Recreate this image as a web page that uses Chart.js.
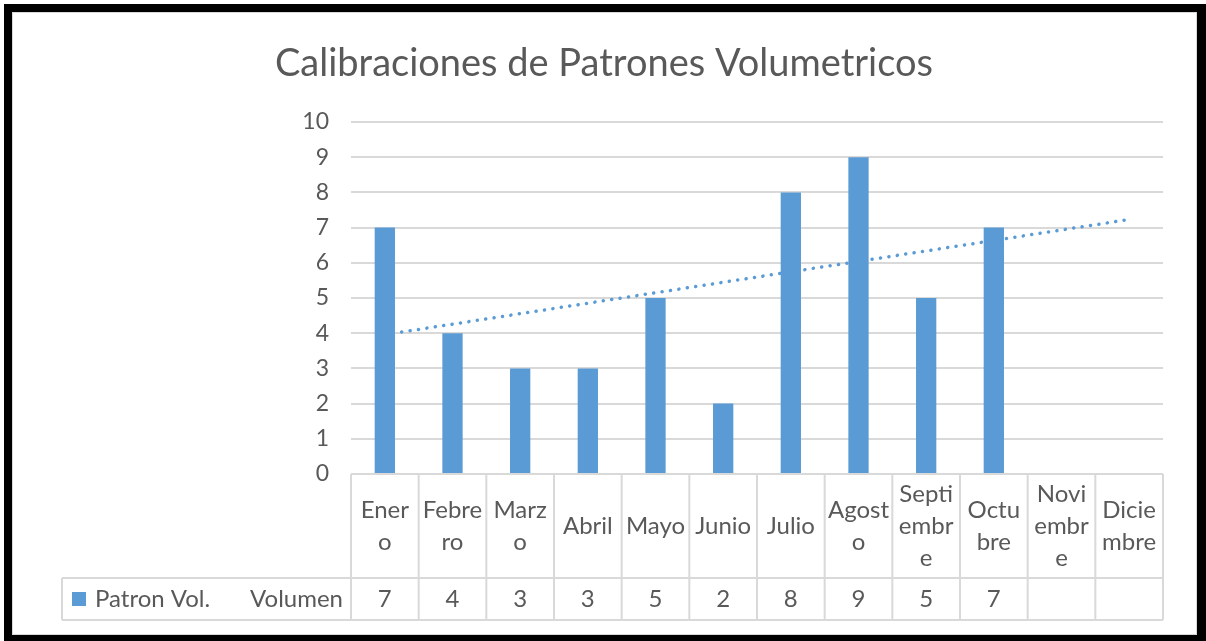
<!DOCTYPE html>
<html>
<head>
  <title>Calibraciones de Patrones Volumetricos</title>
  <script src="https://cdn.jsdelivr.net/npm/chart.js"></script>
  <style>
    body {
      margin: 0;
      background: #ffffff;
    }
    #wrap {
      width: 1206px;
      height: 641px;
    }
  </style>
</head>
<body>
  <div id="wrap">
    <canvas id="calChart" width="1206" height="641"></canvas>
  </div>

  <script>
// datos
const meses = ['Enero', 'Febrero', 'Marzo', 'Abril', 'Mayo', 'Junio', 'Julio', 'Agosto', 'Septiembre', 'Octubre', 'Noviembre', 'Diciembre'];
// asi corta Excel los nombres dentro de la tabla
const mesesTabla = [['Ener', 'o'], ['Febre', 'ro'], ['Marz', 'o'], ['Abril'], ['Mayo'], ['Junio'], ['Julio'], ['Agost', 'o'], ['Septi', 'embr', 'e'], ['Octu', 'bre'], ['Novi', 'embr', 'e'], ['Dicie', 'mbre']];
const volumen = [7, 4, 3, 3, 5, 2, 8, 9, 5, 7, null, null];
// linea de tendencia: extremos
const tendencia = [3.96, null, null, null, null, null, null, null, null, null, null, 7.23];
const ejeY = [0, 1, 2, 3, 4, 5, 6, 7, 8, 9, 10];
const serie = 'Patron Vol.';
const serieUnidad = 'Volumen';

const gris = '#595959';
const lineaGris = '#d9d9d9';
const azul = '#5b9bd5';
const fuente = 'Lato, "Open Sans", sans-serif';

// marco negro, titulo y tabla de datos de abajo
const marcoYTabla = {
  id: 'marcoYTabla',
  beforeDraw(chart) {
    const c = chart.ctx;
    c.save();
    c.fillStyle = '#ffffff';
    c.fillRect(0, 0, chart.width, chart.height);
    c.fillStyle = '#000000';
    c.fillRect(4, 4, 1202, 8);
    c.fillRect(4, 4, 8, 637);
    c.fillRect(1197, 4, 9, 637);
    c.fillRect(4, 635, 1202, 6);
    c.strokeStyle = lineaGris;
    c.lineWidth = 1;
    c.strokeRect(12.5, 12.5, 1184, 622);
    c.restore();
  },
  afterDraw(chart) {
    const c = chart.ctx;
    const x = chart.scales.x;
    const area = chart.chartArea;
    const ancho = (area.right - area.left) / meses.length;
    const top = area.bottom;
    const filaMedio = 578;
    const fondo = 620;
    const izq = 62;

    c.save();
    // titulo
    c.fillStyle = gris;
    c.font = '38px ' + fuente;
    c.textAlign = 'center';
    c.textBaseline = 'alphabetic';
    c.fillText('Calibraciones de Patrones Volumetricos', 604, 76);

    // lineas de la tabla
    c.strokeStyle = lineaGris;
    c.lineWidth = 2;
    c.beginPath();
    c.moveTo(izq, filaMedio); c.lineTo(area.right, filaMedio);
    c.moveTo(izq, fondo); c.lineTo(area.right, fondo);
    c.moveTo(izq, filaMedio); c.lineTo(izq, fondo);
    for (let i = 0; i <= meses.length; i++) {
      const px = area.left + i * ancho;
      c.moveTo(px, top); c.lineTo(px, fondo);
    }
    c.stroke();

    // textos
    c.fillStyle = gris;
    c.font = '24px ' + fuente;
    c.textBaseline = 'middle';
    c.textAlign = 'center';
    const centroCat = (top + filaMedio) / 2;
    const centroVal = (filaMedio + fondo) / 2;
    meses.forEach((m, i) => {
      const cx = x.getPixelForValue(i);
      const lineas = mesesTabla[i];
      const alto = 32;
      const y0 = centroCat - (lineas.length - 1) * alto / 2;
      lineas.forEach((t, j) => c.fillText(t, cx, y0 + j * alto));
      if (volumen[i] !== null) c.fillText(String(volumen[i]), cx, centroVal);
    });

    // leyenda de la fila
    c.fillStyle = azul;
    c.fillRect(72, 592, 14, 14);
    c.fillStyle = gris;
    c.textAlign = 'left';
    c.fillText(serie, 95, centroVal);
    c.textAlign = 'right';
    c.fillText(serieUnidad, 343, centroVal);
    c.restore();
  }
};

const ctx = document.getElementById('calChart').getContext('2d');
const chart = new Chart(ctx, {
  type: 'bar',
  data: {
    labels: meses,
    datasets: [{
      label: serie,
      data: volumen,
      backgroundColor: azul,
      barPercentage: 0.3,
      categoryPercentage: 1,
      order: 0
    }, {
      type: 'line',
      label: 'Tendencia',
      data: tendencia,
      borderColor: azul,
      borderWidth: 3.5,
      borderDash: [0.1, 8.4],
      borderCapStyle: 'round',
      pointRadius: 0,
      spanGaps: true,
      fill: false,
      order: 1
    }]
  },
  options: {
    responsive: false,
    animation: false,
    layout: {
      padding: { left: 13, right: 43, top: 122, bottom: 167 }
    },
    plugins: {
      legend: { display: false },
      tooltip: { enabled: false },
      title: { display: false }
    },
    scales: {
      x: { display: false },
      y: {
        min: ejeY[0],
        max: ejeY[ejeY.length - 1],
        ticks: {
          stepSize: 1,
          color: gris,
          font: { family: fuente, size: 23 },
          padding: 22
        },
        grid: { color: lineaGris, lineWidth: 2, drawTicks: false },
        border: { display: false },
        afterFit: s => { s.width = 338; }
      }
    }
  },
  plugins: [marcoYTabla]
});
  </script>
</body>
</html>
